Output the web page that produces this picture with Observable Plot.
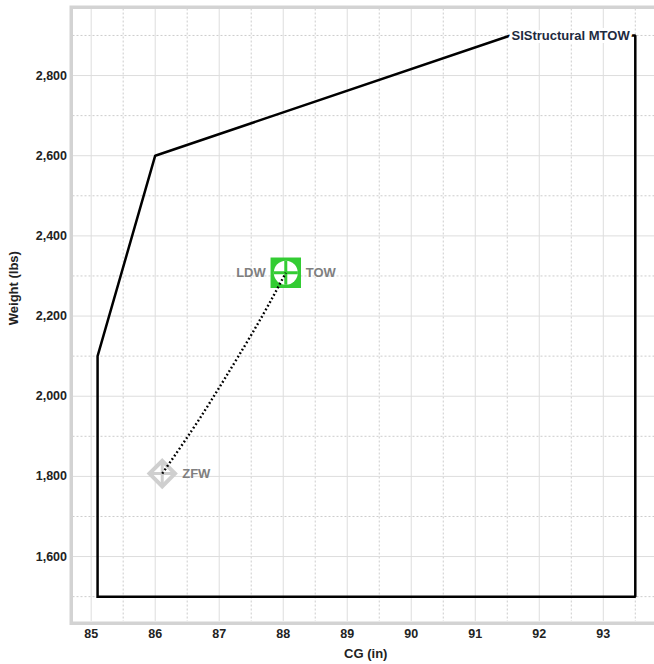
<!DOCTYPE html>
<html><head><meta charset="utf-8">
<script src="https://cdn.jsdelivr.net/npm/d3@7"></script>
<script src="https://cdn.jsdelivr.net/npm/@observablehq/plot@0.6"></script>
<style>html,body{margin:0;padding:0;background:#fff;overflow:hidden}</style>
</head><body><div id="chart"></div>
<script>
// Weight & balance envelope (CG in inches, weight in lbs)
const envelopeCG     = [85.1, 85.1, 86.0, 91.55, 93.5, 93.5, 85.1];
const envelopeWeight = [1500, 2100, 2600, 2900, 2900, 1500, 1500];
const envelopeLabel  = "SIStructural MTOW";

// Fuel burn CG path from ZFW up to TOW/LDW
const pathCG     = [86.11, 86.57, 86.94, 87.29, 87.69, 88.04];
const pathWeight = [1807, 1914, 2006, 2097, 2205, 2308];

// Marker points
const zfwPoint = {cg: 86.11, w: 1807, name: "ZFW"};
const towPoint = {cg: 88.04, w: 2308, name: "TOW"};
const ldwPoint = {cg: 88.04, w: 2308, name: "LDW"};

// Tick values
const xTicks = [85, 86, 87, 88, 89, 90, 91, 92, 93];
const xMinor = [85.5, 86.5, 87.5, 88.5, 89.5, 90.5, 91.5, 92.5, 93.5];
const yTicks = [1600, 1800, 2000, 2200, 2400, 2600, 2800];
const yMinor = [1500, 1700, 1900, 2100, 2300, 2500, 2700, 2900];

const envelope = envelopeCG.map((c, i) => ({cg: c, w: envelopeWeight[i]}));
const path = pathCG.map((c, i) => ({cg: c, w: pathWeight[i]}));

const green = "#33cc33";
const gray = "#cfcfcf";

const chart = Plot.plot({
  width: 654, height: 664,
  marginLeft: 72.5, marginRight: 0, marginTop: 8.5, marginBottom: 43,
  style: {fontFamily: "'Liberation Sans', Arial, sans-serif", fontSize: "12.5px", fontWeight: "bold", color: "#222", background: "#fff", overflow: "hidden"},
  x: {domain: [84.716, 93.8], ticks: xTicks, tickSize: 0, tickPadding: 8, label: null, tickFormat: d => String(d)},
  y: {domain: [1438, 2966], ticks: yTicks, tickSize: 0, tickPadding: 6, label: null, tickFormat: d3.format(",")},
  marks: [
    Plot.ruleX(xMinor, {stroke: "#cccccc", strokeDasharray: "2,2", strokeWidth: 1}),
    Plot.ruleY(yMinor, {stroke: "#cccccc", strokeDasharray: "2,2", strokeWidth: 1}),
    Plot.ruleX(xTicks, {stroke: "#dddddd", strokeWidth: 1}),
    Plot.ruleY(yTicks, {stroke: "#dddddd", strokeWidth: 1}),
    Plot.line(envelope, {x: "cg", y: "w", stroke: "#000", strokeWidth: 2.5, strokeLinejoin: "miter", strokeLinecap: "square"}),
    // ZFW marker
    Plot.dot([zfwPoint], {x: "cg", y: "w", symbol: "diamond2", r: 11.5, stroke: gray, strokeWidth: 4, fill: "white"}),
    Plot.dot([zfwPoint], {x: "cg", y: "w", symbol: "plus", r: 8.4, stroke: gray, strokeWidth: 3}),
    // TOW / LDW marker
    Plot.dot([towPoint], {x: "cg", y: "w", symbol: "square", r: 17.2, fill: green, stroke: "none"}),
    Plot.dot([towPoint], {x: "cg", y: "w", symbol: "circle", r: 12, fill: "white", stroke: "none"}),
    Plot.dot([towPoint], {x: "cg", y: "w", symbol: "plus", r: 7.8, stroke: green, strokeWidth: 3}),
    // path
    Plot.line(path, {x: "cg", y: "w", curve: "natural", stroke: "#000", strokeWidth: 2.4, strokeDasharray: "1.8,2.4", strokeLinecap: "butt"}),
    // labels
    Plot.text([zfwPoint], {x: "cg", y: "w", text: "name", textAnchor: "start", dx: 20, fill: "#7f7f7f", fontSize: 13}),
    Plot.text([towPoint], {x: "cg", y: "w", text: "name", textAnchor: "start", dx: 20, fill: "#7f7f7f", fontSize: 13}),
    Plot.text([ldwPoint], {x: "cg", y: "w", text: "name", textAnchor: "end", dx: -20, fill: "#7f7f7f", fontSize: 13}),
    Plot.text([envelope[3]], {x: "cg", y: "w", text: () => envelopeLabel, textAnchor: "start", dx: 1, fill: "#1e2a40", stroke: "white", strokeWidth: 6, strokeLinejoin: "round", paintOrder: "stroke", fontSize: 13}),
    Plot.frame({stroke: "#d3d3d3", strokeWidth: 3.5, insetLeft: -1.75, insetTop: -1.75, insetBottom: -1.75, insetRight: -8}),
    Plot.text(["CG (in)"], {frameAnchor: "bottom", text: d => d, dy: 36, dx: 2, fontSize: 13, fill: "#222"}),
    Plot.text(["Weight (lbs)"], {frameAnchor: "left", text: d => d, rotate: -90, dx: -59.5, dy: 10, fontSize: 13, fill: "#222"})
  ]
});
document.getElementById("chart").appendChild(chart);
</script>
</body></html>
